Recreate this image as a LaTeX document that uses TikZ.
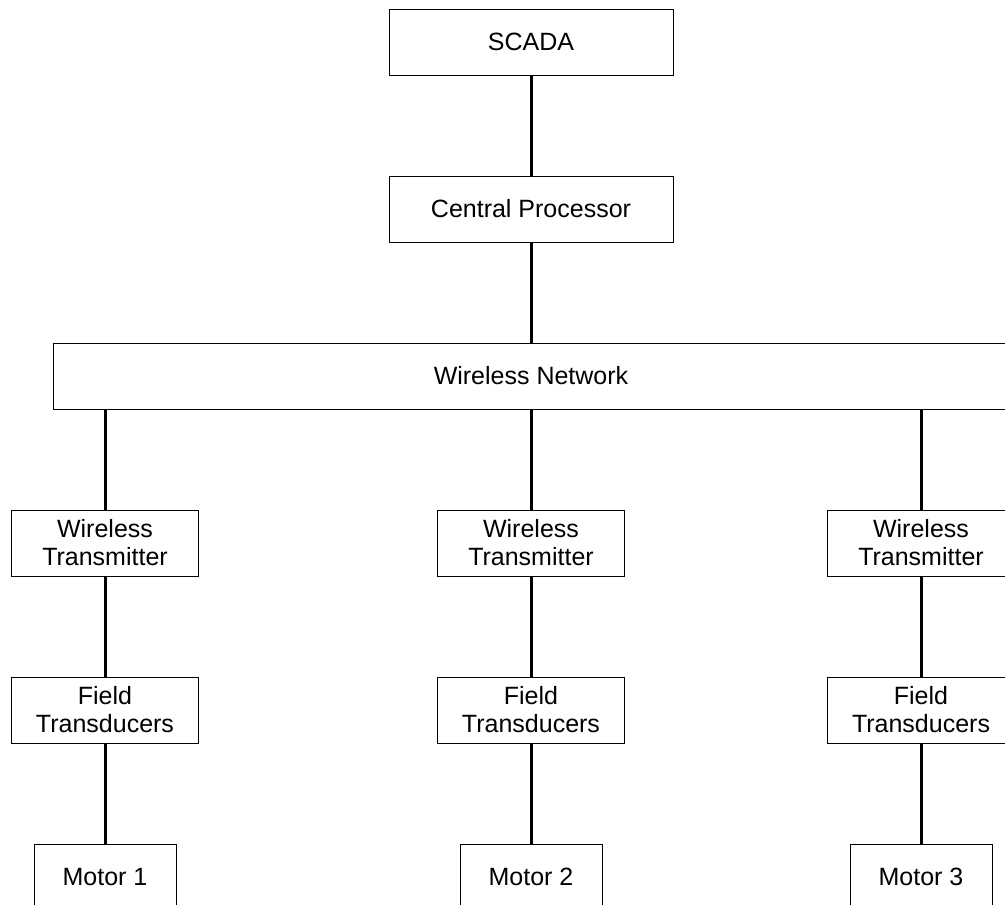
\documentclass[tikz,border=0pt]{standalone}
\usepackage{fontspec}
\setmainfont{Liberation Sans}
\usetikzlibrary{positioning}

\begin{document}
\begin{tikzpicture}[
	x=1pt, y=1pt,
	node distance=100pt,
	box/.style={rectangle, draw, line width=1pt, minimum height=66pt, inner sep=0pt, align=center, font=\fontsize{25}{28}\selectfont},
	widebox/.style={box, minimum width=284pt},
	netbox/.style={box, minimum width=956pt},
	unitbox/.style={box, minimum width=187pt},
	motorbox/.style={box, minimum width=142pt},
	link/.style={line width=3pt}
	]
	
	\clip (0,0) rectangle (1005,-905);
	
	% control side
	\node[widebox] (scada) at (531,-42) {SCADA};
	\node[widebox, below=of scada] (cpu) {Central Processor};
	\node[netbox, below=of cpu] (net) {Wireless Network};
	
	% three field branches
	\node[unitbox, below=of net] (tx2) {Wireless\\Transmitter};
	\node[unitbox, left=238pt of tx2] (tx1) {Wireless\\Transmitter};
	\node[unitbox, right=202pt of tx2] (tx3) {Wireless\\Transmitter};
	
	\node[unitbox, below=of tx1] (ft1) {Field\\Transducers};
	\node[unitbox, below=of tx2] (ft2) {Field\\Transducers};
	\node[unitbox, below=of tx3] (ft3) {Field\\Transducers};
	
	\node[motorbox, below=of ft1] (m1) {Motor 1};
	\node[motorbox, below=of ft2] (m2) {Motor 2};
	\node[motorbox, below=of ft3] (m3) {Motor 3};
	
	\draw[link] (scada) -- (cpu);
	\draw[link] (cpu) -- (net);
	\foreach \i in {1,2,3}{
		\draw[link] (net.south -| tx\i) -- (tx\i);
		\draw[link] (tx\i) -- (ft\i);
		\draw[link] (ft\i) -- (m\i);
	}
\end{tikzpicture}
\end{document}
